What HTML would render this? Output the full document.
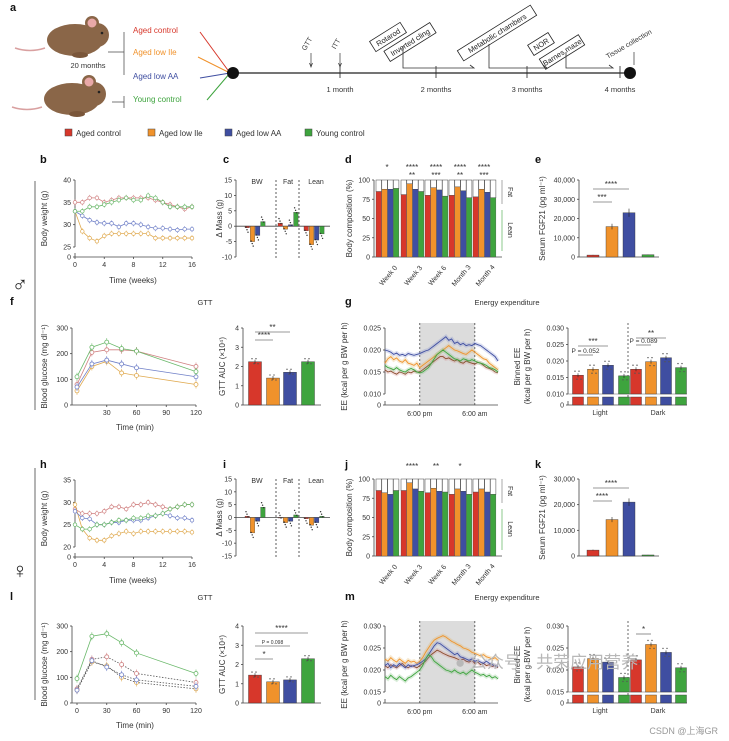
<!DOCTYPE html>
<html><head><meta charset="utf-8"><style>
html,body{margin:0;padding:0;background:#fff;}
svg{display:block;font-family:"Liberation Sans","Noto Sans CJK SC",sans-serif;}
</style></head><body>
<svg id="fig" width="729" height="741" viewBox="0 0 729 741" xmlns="http://www.w3.org/2000/svg"></svg>
<script>
// ---------------- DATA ----------------
const groups=['Aged control','Aged low Ile','Aged low AA','Young control'];
const weeks=[0,1,2,3,4,5,6,7,8,9,10,11,12,13,14,15,16];
const bwMaleRed=[35,35,36,36,35,35.5,36,36,36,36,36,35.5,35,34.5,34,33.5,34];
const bwMaleOrange=[33,28.5,27,26.3,27.5,28,28,28,28,28,28,27,27,27,27,27,27];
const bwMaleBlue=[33,32,31,30.5,30.3,30.3,29.5,30.3,30.3,30,29.5,29.2,29.2,29,28.8,29,29];
const bwMaleGreen=[33,33,34,34,34.5,35,35.5,36,35.5,35.5,36.5,36,35,34,34,34,34];
const bwFemRed=[28.5,27.5,27.5,27.5,28,29,29,28.5,29.5,29.5,30,29.5,29,28.5,29,29.5,29.5];
const bwFemOrange=[29.5,24,22,21.5,21.5,22.5,23,23.5,23,23.5,23.5,23.5,23.5,23.5,23.5,23.5,23.3];
const bwFemBlue=[28,26.5,26.3,25,25,25.5,25.5,26,26,26,26.5,27,27.5,27,26.5,26.5,26];
const bwFemGreen=[25,24,24,25,25,25.5,26,26,26.5,26.5,27,27,27.5,28.5,29,29.5,29.5];
const massCats=['BW','Fat','Lean'];
const dMassMale=[[-0.5,-5,-3,1.5],[1,-1,0.5,4.5],[-1.5,-6,-4.5,-2.5]];
const dMassFem=[[0.5,-6,-1.5,4],[0,-2,-1.5,1],[-0.5,-3,-2,0.5]];
const compCats=['Week 0','Week 3','Week 6','Month 3','Month 4'];
const leanMale=[[85,88,88,89],[81,95,88,85],[80,90,87,79],[80,91,86,77],[78,88,84,77]];
const leanFem=[[85,82,80,85],[85,95,87,84],[82,88,84,83],[80,87,84,80],[83,87,83,80]];
const fgfMale=[1000,15800,23000,1200];
const fgfFem=[2300,14200,21000,400];
const gttTimes=[0,15,30,45,60,120];
const gttMaleRed=[80,205,215,215,210,150];
const gttMaleOrange=[55,150,170,125,115,80];
const gttMaleBlue=[70,160,175,160,145,110];
const gttMaleGreen=[110,225,245,220,210,130];
const gttFemRed=[55,170,180,150,115,80];
const gttFemOrange=[50,160,145,100,80,55];
const gttFemBlue=[50,165,140,110,90,65];
const gttFemGreen=[95,260,270,235,195,115];
const aucMale=[2.25,1.4,1.7,2.25];
const aucFem=[1.45,1.1,1.2,2.3];
const eeMaleBlue=[0.0200,0.0198,0.0195,0.0190,0.0193,0.0188,0.0190,0.0187,0.0192,0.0190,0.0188,0.0190,0.0192,0.0195,0.0198,0.0200,0.0205,0.0210,0.0215,0.0220,0.0225,0.0230,0.0222,0.0225,0.0215,0.0218,0.0212,0.0215,0.0210,0.0212,0.0210,0.0215,0.0212,0.0210,0.0205,0.0200,0.0195,0.0190,0.0185,0.0175];
const eeMaleOrange=[0.0170,0.0180,0.0185,0.0178,0.0182,0.0175,0.0172,0.0178,0.0170,0.0168,0.0165,0.0170,0.0160,0.0165,0.0170,0.0175,0.0180,0.0185,0.0190,0.0195,0.0200,0.0205,0.0210,0.0205,0.0200,0.0198,0.0195,0.0192,0.0190,0.0195,0.0200,0.0195,0.0190,0.0185,0.0180,0.0178,0.0170,0.0165,0.0160,0.0155];
const eeMaleRed=[0.0155,0.0150,0.0152,0.0148,0.0145,0.0150,0.0148,0.0145,0.0150,0.0148,0.0152,0.0150,0.0150,0.0155,0.0160,0.0165,0.0170,0.0175,0.0180,0.0185,0.0185,0.0180,0.0182,0.0178,0.0175,0.0178,0.0172,0.0170,0.0175,0.0172,0.0170,0.0168,0.0172,0.0170,0.0165,0.0160,0.0158,0.0155,0.0150,0.0148];
const eeMaleGreen=[0.0165,0.0160,0.0158,0.0155,0.0160,0.0155,0.0152,0.0150,0.0155,0.0158,0.0155,0.0150,0.0148,0.0150,0.0155,0.0160,0.0170,0.0180,0.0190,0.0195,0.0200,0.0195,0.0190,0.0185,0.0180,0.0178,0.0175,0.0180,0.0178,0.0175,0.0178,0.0175,0.0172,0.0170,0.0168,0.0165,0.0160,0.0158,0.0155,0.0150];
const eeFemBlue=[0.0210,0.0215,0.0205,0.0212,0.0208,0.0215,0.0210,0.0205,0.0212,0.0208,0.0210,0.0212,0.0215,0.0220,0.0225,0.0235,0.0245,0.0255,0.0262,0.0260,0.0255,0.0250,0.0245,0.0240,0.0235,0.0238,0.0230,0.0228,0.0225,0.0222,0.0225,0.0220,0.0222,0.0218,0.0215,0.0220,0.0215,0.0212,0.0210,0.0208];
const eeFemOrange=[0.0225,0.0220,0.0228,0.0222,0.0218,0.0225,0.0220,0.0215,0.0222,0.0218,0.0220,0.0215,0.0220,0.0228,0.0240,0.0250,0.0260,0.0268,0.0272,0.0275,0.0278,0.0275,0.0270,0.0265,0.0262,0.0258,0.0255,0.0250,0.0248,0.0245,0.0240,0.0238,0.0235,0.0232,0.0235,0.0230,0.0228,0.0225,0.0228,0.0222];
const eeFemRed=[0.0210,0.0205,0.0212,0.0208,0.0205,0.0210,0.0215,0.0208,0.0205,0.0210,0.0208,0.0205,0.0210,0.0215,0.0220,0.0228,0.0235,0.0240,0.0245,0.0242,0.0238,0.0235,0.0232,0.0230,0.0228,0.0225,0.0222,0.0225,0.0220,0.0218,0.0222,0.0215,0.0218,0.0212,0.0215,0.0210,0.0212,0.0208,0.0210,0.0205];
const eeFemGreen=[0.0185,0.0180,0.0188,0.0182,0.0178,0.0185,0.0180,0.0175,0.0182,0.0185,0.0190,0.0195,0.0200,0.0210,0.0225,0.0235,0.0230,0.0220,0.0215,0.0210,0.0205,0.0200,0.0198,0.0195,0.0200,0.0195,0.0192,0.0195,0.0190,0.0195,0.0200,0.0195,0.0192,0.0188,0.0190,0.0185,0.0188,0.0182,0.0185,0.0180];
const binMale=[0.0157,0.0175,0.0187,0.0155,0.0175,0.0198,0.0210,0.0180];
const binFem=[0.0207,0.0226,0.0218,0.0183,0.0223,0.0258,0.0240,0.0205];
const darkStartIdx=12, darkEndIdx=31;
const ticksB=[25,30,35,40], ticksH=[20,25,30,35], ticksWeeks=[0,4,8,12,16];
const ticksC=[-10,-5,0,5,10,15], ticksI=[-15,-10,-5,0,5,10,15];
const ticksComp=[0,25,50,75,100];
const ticksE=[0,10000,20000,30000,40000], ticksK=[0,10000,20000,30000];
const ticksGTT=[0,100,200,300], ticksMin=[30,60,90,120], ticksMinL=[0,30,60,90,120];
const ticksAUC=[0,1,2,3,4];
const ticksEEm=[0.010,0.015,0.020,0.025], ticksBinM=[0.010,0.015,0.020,0.025,0.030];
const ticksEEf=[0.015,0.020,0.025,0.030];

// ---------------- HELPERS ----------------
const NS='http://www.w3.org/2000/svg';
const svg=document.getElementById('fig');
const COL=['#d7372b','#f0922b','#3f4ea1','#3ea43e'];
const LCOL=['#d08080','#e0aa50','#7080c8','#6ab86a'];
function mk(tag,attrs,parent){const e=document.createElementNS(NS,tag);for(const k in attrs)e.setAttribute(k,attrs[k]);(parent||svg).appendChild(e);return e;}
function nm(el,name,inter){


return el;}
function T(x,y,s,o){o=o||{};const e=mk('text',{x:x,y:y,'font-size':o.size||7,fill:o.fill||'#333','text-anchor':o.a||'middle','font-weight':o.w||'normal'});if(o.rot!==undefined)e.setAttribute('transform','rotate('+o.rot+' '+x+' '+y+')');e.textContent=s;return e;}
function L(x1,y1,x2,y2,c,w,dash){const e=mk('line',{x1:x1,y1:y1,x2:x2,y2:y2,stroke:c||'#444','stroke-width':w||0.8});if(dash)e.setAttribute('stroke-dasharray',dash);return e;}
function lin(d0,d1,r0,r1){return v=>r0+(v-d0)*(r1-r0)/(d1-d0);}
function fmt(v){return v>=1000?v.toLocaleString('en-US'):String(v);}
function yAxis(x,y0,y1,ticks,ys,label,lx,zeroY,dec){
 nm(L(x,y0,x,y1),'y-axis','false');
 ticks.forEach(t=>{const y=ys(t);L(x-2,y,x,y);nm(T(x-4,y+2.5,dec?t.toFixed(dec):fmt(t),{a:'end'}),'y-tick-label');});
 if(zeroY!==undefined){L(x,zeroY-4,x,zeroY);L(x-2,zeroY,x,zeroY);nm(T(x-4,zeroY+2.5,'0',{a:'end'}),'y-tick-label');}
 if(label)nm(T(lx,(y0+(zeroY||y1))/2,label,{size:8,rot:-90}),'y-axis-title');
}
function panelLetter(x,y,s){nm(T(x,y,s,{size:11,w:'bold',a:'start',fill:'#111'}),'panel-label-'+s);}

// ---------------- PANEL A ----------------
function mouse(cx,cy,name){
 const g=mk('g',{});nm(g,name);
 mk('path',{d:`M${cx-30},${cy+8} q-15,5 -30,0`,stroke:'#d9a0a0','stroke-width':1.5,fill:'none'},g);
 mk('ellipse',{cx:cx,cy:cy,rx:28,ry:16,fill:'#8a6648'},g);
 mk('circle',{cx:cx+22,cy:cy-5,r:12,fill:'#8a6648'},g);
 mk('circle',{cx:cx+17,cy:cy-17,r:7,fill:'#8a6648'},g);
 mk('circle',{cx:cx+17,cy:cy-17,r:4.5,fill:'#e8a8a8'},g);
 mk('circle',{cx:cx+27,cy:cy-7,r:1.3,fill:'#222'},g);
 mk('ellipse',{cx:cx+5,cy:cy+15,rx:8,ry:3,fill:'#7a563a'},g);
}
panelLetter(10,11,'a');
mouse(75,40,'aged-mouse');mouse(72,99,'young-mouse');
nm(T(88,68,'20 months',{size:7.5,fill:'#333'}),'age-label');
L(108,52,124,52,'#555');L(124,32,124,75,'#555');L(112,102,124,102,'#555');L(124,96,124,108,'#555');
const aLabY=[33,55,79,102];
groups.forEach((g,i)=>{nm(T(133,aLabY[i],g,{size:8,fill:COL[i],a:'start'}),'group-label');});
[[200,32],[198,57],[200,78],[207,100]].forEach((p,i)=>nm(L(p[0],p[1],230,73,COL[i],1),'group-line'));
nm(L(233,73,630,73,'#222',1.2),'timeline');
nm(mk('circle',{cx:233,cy:73,r:6,fill:'#111'}),'timeline-start');
nm(mk('circle',{cx:630,cy:73,r:6,fill:'#111'}),'timeline-end');
[[340,'1 month'],[436,'2 months'],[527,'3 months'],[620,'4 months']].forEach(m=>{L(m[0],66,m[0],78,'#222');nm(T(m[0],92,m[1],{size:7.5}),'timeline-tick');});
[[311,'GTT'],[340,'ITT']].forEach(m=>{L(m[0],53,m[0],66,'#333',0.7);mk('path',{d:`M${m[0]-1.5},63 L${m[0]},67 L${m[0]+1.5},63`,fill:'none',stroke:'#333','stroke-width':0.7});nm(T(m[0]-2,45,m[1],{size:7,rot:-60}),'event-label');});
function tbox(cx,cy,w,s){const g=mk('g',{transform:`rotate(-32 ${cx} ${cy})`});nm(g,'event-box');mk('rect',{x:cx-w/2,y:cy-6,width:w,height:12,fill:'#fff',stroke:'#222','stroke-width':0.8},g);const t=mk('text',{x:cx,y:cy+3,'font-size':7.5,'text-anchor':'middle',fill:'#222'},g);t.textContent=s;}
tbox(388,37,36,'Rotarod');tbox(410,42,54,'Inverted cling');tbox(497,33,86,'Metabolic chambers');tbox(541,44,24,'NOR');tbox(562,52,46,'Barnes maze');
nm(T(630,46,'Tissue collection',{size:7,rot:-30}),'event-label');L(634,52,634,65,'#333',0.7);
mk('path',{d:'M403,46 V68 H474 l-4,-3',fill:'none',stroke:'#333','stroke-width':0.8});
mk('path',{d:'M489,44 V68 H547 l-4,-3',fill:'none',stroke:'#333','stroke-width':0.8});
mk('path',{d:'M566,52 V68 H613 l-4,-3',fill:'none',stroke:'#333','stroke-width':0.8});
const legX=[65,148,225,305];
groups.forEach((g,i)=>{const r=mk('rect',{x:legX[i],y:129,width:7,height:7,fill:COL[i],stroke:'#444','stroke-width':0.5});nm(r,'legend-swatch');nm(T(legX[i]+11,136,g,{size:8,a:'start'}),'legend-entry');});

// sex markers
nm(L(35,181,35,410,'#444',0.8),'male-bracket');nm(L(35,468,35,700,'#444',0.8),'female-bracket');
nm(T(20,292,'♂',{size:22,fill:'#222'}),'male-symbol');nm(T(20,578,'♀',{size:22,fill:'#222'}),'female-symbol');

// ---------------- GENERIC DRAWERS ----------------
function bwPanel(letter,ly,y0,ticks,zeroY,series){
 panelLetter(40,ly,letter);
 const xs=lin(0,16,75,192), ys=lin(ticks[0],ticks[3],zeroY-10,zeroY-77);
 yAxis(75,ys(ticks[3]),zeroY-10,ticks,ys,'Body weight (g)',47,zeroY);
 nm(L(75,zeroY,192,zeroY),'x-axis');
 ticksWeeks.forEach(t=>{L(xs(t),zeroY,xs(t),zeroY+2);nm(T(xs(t),zeroY+10,t),'x-tick-label');});
 nm(T(133,zeroY+26,'Time (weeks)',{size:8}),'x-axis-title');
 series.forEach((s,i)=>{
  const pts=weeks.map((w,j)=>xs(w)+','+ys(s[j])).join(' ');
  nm(mk('polyline',{points:pts,fill:'none',stroke:LCOL[i],'stroke-width':0.8}),'bw-line-'+i);
  weeks.forEach((w,j)=>{L(xs(w),ys(s[j])-3,xs(w),ys(s[j])+3,LCOL[i],0.6);nm(mk('circle',{cx:xs(w),cy:ys(s[j]),r:1.8,fill:'#fff',stroke:LCOL[i],'stroke-width':0.7}),'bw-point');});
 });
}
function massPanel(letter,ly,top,bottom,ticks,data){
 panelLetter(223,ly,letter);
 const ys=lin(ticks[0],ticks[ticks.length-1],bottom,top);
 yAxis(236,top,bottom,ticks,ys,'Δ Mass (g)',222);
 nm(L(236,ys(0),330,ys(0)),'zero-line');
 L(276,top,276,bottom+3,'#333',0.8,'2,2');L(299,top,299,bottom+3,'#333',0.8,'2,2');
 const starts=[245,278,304], lx=[257,288,316];
 massCats.forEach((c,gi)=>{nm(T(lx[gi],top+4,c),'category-label');
  data[gi].forEach((v,bi)=>{const x=starts[gi]+bi*5.2,y=ys(Math.max(v,0)),h=Math.abs(ys(v)-ys(0));
   nm(mk('rect',{x:x,y:y,width:4.5,height:Math.max(h,0.5),fill:COL[bi],stroke:'#333','stroke-width':0.3}),'mass-bar');
   for(let k=0;k<3;k++)mk('circle',{cx:x+1+k,cy:ys(v)+(k-1)*2.5+(v<0?2:-2),r:0.7,fill:'#333'});});});
}
function compPanel(letter,ly,top,bottom,data,stars){
 panelLetter(345,ly,letter);
 const ys=lin(0,100,bottom,top);
 yAxis(374,top,bottom,ticksComp,ys,'Body composition (%)',352);
 nm(L(374,bottom,502,bottom),'x-axis');
 const gs=[376,401,425,449,473];
 compCats.forEach((c,gi)=>{
  nm(T(gs[gi]+14,bottom+20,c,{rot:-50}),'x-tick-label');
  data[gi].forEach((v,bi)=>{const x=gs[gi]+bi*5.8;
   nm(mk('rect',{x:x,y:ys(100),width:5.5,height:ys(v)-ys(100),fill:'#fff',stroke:'#444','stroke-width':0.5}),'fat-bar');
   nm(mk('rect',{x:x,y:ys(v),width:5.5,height:bottom-ys(v),fill:COL[bi],stroke:'#444','stroke-width':0.3}),'lean-bar');});
  if(stars[gi]){nm(T(gs[gi]+11,top-10,stars[gi][0],{size:8}),'sig-stars');if(stars[gi][1])nm(T(gs[gi]+11,top-2,stars[gi][1],{size:8}),'sig-stars');}
 });
 L(502,top,502,top+24,'#555',0.5);nm(T(508,top+12,'Fat',{rot:90}),'fat-label');
 L(502,top+30,502,bottom-6,'#3ea43e',0.6);nm(T(508,top+50,'Lean',{rot:90}),'lean-label');
}
function fgfPanel(letter,ly,top,bottom,ticks,data){
 panelLetter(535,ly,letter);
 const ys=lin(0,ticks[ticks.length-1],bottom,top);
 yAxis(579,top,bottom,ticks,ys,'Serum FGF21 (pg ml⁻¹)',545);
 nm(L(579,bottom,659,bottom),'x-axis');
 const cx=[593,612,629,648];
 data.forEach((v,i)=>{nm(mk('rect',{x:cx[i]-6,y:ys(v),width:12,height:bottom-ys(v),fill:COL[i],stroke:'#333','stroke-width':0.4}),'fgf21-bar');
  L(cx[i],ys(v)-v*0.00018,cx[i],ys(v)+v*0.00018,'#222',0.6);});
 nm(L(593,top+9,629,top+9,'#777'),'sig-bracket');nm(T(611,top+7,'****',{size:8}),'sig-stars');
 nm(L(593,top+22,612,top+22,'#777'),'sig-bracket');nm(T(602,top+20,letter==='e'?'***':'****',{size:8}),'sig-stars');
}
function gttPanel(letter,ly,top,bottom,series,dashed,xt){
 panelLetter(10,ly,letter);nm(T(205,ly,'GTT',{size:7.5}),'panel-title');
 const xs=lin(0,120,77,196), ys=lin(0,300,bottom,top);
 yAxis(72,top,bottom,ticksGTT,ys,'Blood glucose (mg dl⁻¹)',47);
 nm(L(72,bottom,196,bottom),'x-axis');
 xt.forEach(t=>{L(xs(t),bottom,xs(t),bottom+2);nm(T(xs(t),bottom+10,t),'x-tick-label');});
 nm(T(135,bottom+25,'Time (min)',{size:8}),'x-axis-title');
 series.forEach((s,i)=>{const pts=gttTimes.map((t,j)=>xs(t)+','+ys(s[j])).join(' ');
  const pl=mk('polyline',{points:pts,fill:'none',stroke:dashed&&i!==3?'#555':LCOL[i],'stroke-width':0.8});if(dashed&&i!==3)pl.setAttribute('stroke-dasharray','1.5,1.5');nm(pl,'gtt-line-'+i);
  gttTimes.forEach((t,j)=>{L(xs(t),ys(s[j])-4,xs(t),ys(s[j])+4,LCOL[i],0.6);nm(mk('circle',{cx:xs(t),cy:ys(s[j]),r:2,fill:'#fff',stroke:LCOL[i],'stroke-width':0.8}),'gtt-point');});});
}
function aucPanel(top,bottom,data,sig){
 const ys=lin(0,4,bottom,top);
 yAxis(243,top,bottom,ticksAUC,ys,'GTT AUC (×10⁴)',225);
 nm(L(243,bottom,321,bottom),'x-axis');
 const cx=[255,273,290,308];
 data.forEach((v,i)=>{nm(mk('rect',{x:cx[i]-6.5,y:ys(v),width:13,height:bottom-ys(v),fill:COL[i],stroke:'#333','stroke-width':0.4}),'auc-bar');
  L(cx[i],ys(v)-2,cx[i],ys(v)+2,'#222',0.6);for(let k=0;k<4;k++)mk('circle',{cx:cx[i]-3+k*2,cy:ys(v)-3+(k%2)*5,r:0.7,fill:'#555'});});
 sig.forEach(s=>{nm(L(cx[s[0]],top+s[2],cx[s[1]],top+s[2],'#777'),'sig-bracket');nm(T((cx[s[0]]+cx[s[1]])/2,top+s[2]-2,s[3],{size:s[3].length>5?5:8}),'sig-stars');});
}
function eePanel(letter,ly,top,y0v,y1v,zeroY,base,ticks,series,dec){
 panelLetter(345,ly,letter);nm(T(507,ly,'Energy expenditure',{size:7.5}),'panel-title');
 const xs=lin(0,39,385,498), ys=lin(y0v,y1v,base,top);
 nm(mk('rect',{x:xs(darkStartIdx),y:top-5,width:xs(darkEndIdx)-xs(darkStartIdx),height:zeroY-top+5,fill:'#dcdcdc'}),'dark-phase-shade');
 L(xs(darkStartIdx),top-5,xs(darkStartIdx),zeroY,'#444',0.8,'2,2');L(xs(darkEndIdx),top-5,xs(darkEndIdx),zeroY,'#444',0.8,'2,2');
 yAxis(385,top,base,ticks,ys,'EE (kcal per g BW per h)',347,zeroY,3);
 nm(L(385,zeroY,498,zeroY),'x-axis');
 nm(T(xs(darkStartIdx),zeroY+11,'6:00 pm'),'x-tick-label');nm(T(xs(darkEndIdx),zeroY+11,'6:00 am'),'x-tick-label');
 series.forEach((s,i)=>{const pts=s.map((v,j)=>xs(j)+','+ys(v)).join(' ');
  mk('polyline',{points:pts,fill:'none',stroke:LCOL[i],'stroke-width':4,opacity:0.25});
  nm(mk('polyline',{points:pts,fill:'none',stroke:i===0?'#8a4a2a':COL[i],'stroke-width':0.9}),'ee-line-'+i);});
}
function binPanel(top,y0v,y1v,zeroY,base,ticks,data,sig){
 const ys=lin(y0v,y1v,base,top);
 yAxis(568,top,base,ticks,ys,'',0,zeroY,3);
 nm(T(520,(top+zeroY)/2,'Binned EE',{size:8,rot:-90}),'y-axis-title');nm(T(530,(top+zeroY)/2,'(kcal per g BW per h)',{size:8,rot:-90}),'y-axis-title');
 nm(L(568,zeroY,687,zeroY),'x-axis');nm(L(568,base,687,base,'#666',0.5),'axis-break');
 L(628,top-5,628,zeroY,'#444',0.8,'2,2');
 const cx=[578,593,608,624,636,651,666,681];
 data.forEach((v,i)=>{nm(mk('rect',{x:cx[i]-5.5,y:ys(v),width:11,height:base-ys(v),fill:COL[i%4],stroke:'#333','stroke-width':0.4}),'binned-bar');
  mk('rect',{x:cx[i]-5.5,y:base+3,width:11,height:zeroY-base-3,fill:COL[i%4],stroke:'#333','stroke-width':0.4});
  L(cx[i],ys(v)-2,cx[i],ys(v)+2,'#222',0.6);for(let k=0;k<4;k++)mk('circle',{cx:cx[i]-3+k*2,cy:ys(v)-4+(k%2)*8,r:0.7,fill:'#555'});});
 nm(T(600,zeroY+10,'Light'),'x-tick-label');nm(T(658,zeroY+10,'Dark'),'x-tick-label');
 sig.forEach(s=>{nm(L(cx[s[0]],top+s[2],cx[s[1]],top+s[2],'#777'),'sig-bracket');nm(T((cx[s[0]]+cx[s[1]])/2,top+s[2]-2,s[3],{size:s[3].length>4?6.5:8}),'sig-stars');});
}

// ---------------- MALE ----------------
bwPanel('b',163,180,ticksB,257,[bwMaleRed,bwMaleOrange,bwMaleBlue,bwMaleGreen]);
massPanel('c',163,180,257,ticksC,dMassMale);
compPanel('d',163,180,257,leanMale,[['*'],['****','**'],['****','***'],['****','**'],['****','***']]);
fgfPanel('e',163,180,257,ticksE,fgfMale);
gttPanel('f',305,328,405,[gttMaleRed,gttMaleOrange,gttMaleBlue,gttMaleGreen],false,ticksMin);
aucPanel(328,405,aucMale,[[0,1,12,'****'],[0,2,4,'**']]);
eePanel('g',305,328,0.010,0.025,405,394,ticksEEm,[eeMaleRed,eeMaleOrange,eeMaleBlue,eeMaleGreen]);
binPanel(328,0.010,0.030,405,394,ticksBinM,binMale,[[0,2,18,'***'],[0,1,27,'P = 0.052'],[4,6,10,'**'],[4,5,17,'P = 0.089']]);

// ---------------- FEMALE ----------------
bwPanel('h',468,479,ticksH,557,[bwFemRed,bwFemOrange,bwFemBlue,bwFemGreen]);
massPanel('i',468,479,556,ticksI,dMassFem);
compPanel('j',468,479,556,leanFem,[null,['****'],['**'],['*'],null]);
fgfPanel('k',468,479,556,ticksK,fgfFem);
gttPanel('l',600,626,703,[gttFemRed,gttFemOrange,gttFemBlue,gttFemGreen],true,ticksMinL);
aucPanel(626,703,aucFem,[[0,3,7,'****'],[0,2,20,'P = 0.098'],[0,1,33,'*']]);
eePanel('m',600,626,0.015,0.030,703,692,ticksEEf,[eeFemRed,eeFemOrange,eeFemBlue,eeFemGreen]);
binPanel(626,0.015,0.030,703,692,ticksEEf,binFem,[[4,5,8,'*']]);

// watermarks
nm(T(455,668,'● 公众号 · 共荣应用营养',{size:17,fill:'#b8b8b8',a:'start'}),'watermark');
nm(T(718,734,'CSDN @上海GR',{size:9,fill:'#999',a:'end'}),'csdn-watermark');
</script>
</body></html>
